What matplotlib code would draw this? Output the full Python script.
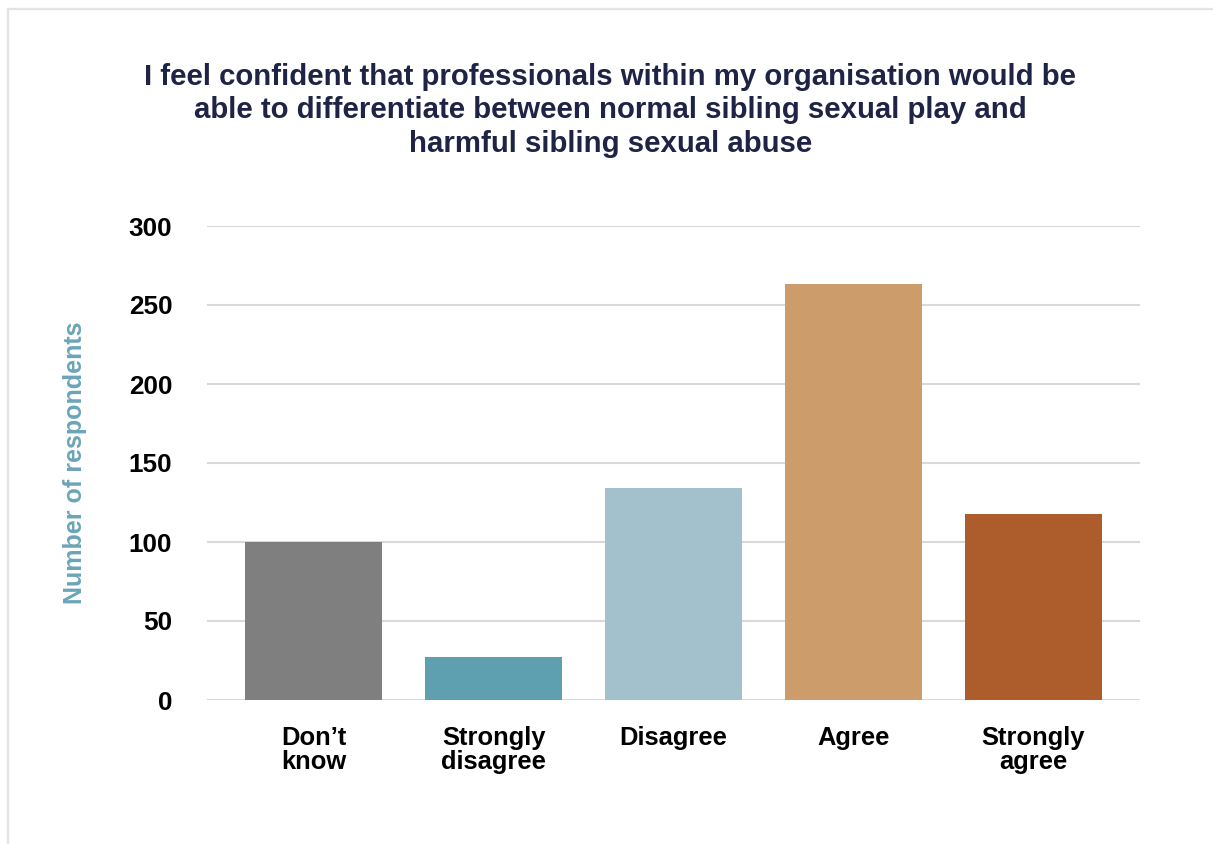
import matplotlib.pyplot as plt
from matplotlib.patches import Rectangle

plt.rcParams["font.family"] = ["Liberation Sans", "DejaVu Sans"]
plt.rcParams["font.weight"] = "bold"

categories = ["Don\u2019t\nknow", "Strongly\ndisagree", "Disagree", "Agree", "Strongly\nagree"]
respondents = [100, 27, 134, 263, 118]
bar_colors = ["#7f7f7f", "#5fa0b0", "#a3c1cd", "#cd9c6b", "#ad5d2b"]
y_ticks = [0, 50, 100, 150, 200, 250, 300]

title = ("I feel confident that professionals within my organisation would be\n"
         "able to differentiate between normal sibling sexual play and\n"
         "harmful sibling sexual abuse")

fig = plt.figure(figsize=(12.13, 8.44), dpi=100)
fig.patches.append(Rectangle((8 / 1213, -0.1), 1.2, 1.1 - 9 / 844,
                             transform=fig.transFigure, fill=False,
                             edgecolor="#e3e3e3", linewidth=1.6))

ax = fig.add_axes([207 / 1213, 1 - 700 / 844, (1140 - 207) / 1213, (700 - 226) / 844])
x = range(len(categories))
ax.bar(x, respondents, width=0.76, color=bar_colors, zorder=3)

ax.set_xlim(-0.592, 4.592)
ax.set_ylim(0, 300)
ax.set_yticks(y_ticks)
ax.set_xticks(list(x))
ax.set_xticklabels(categories, linespacing=1.0)
ax.yaxis.grid(True, color="#d9d9d9", linewidth=1.5, zorder=0)
ax.set_axisbelow(True)
for side in ax.spines.values():
    side.set_visible(False)
ax.tick_params(axis="both", length=0, labelcolor="black")
ax.tick_params(axis="y", labelsize=18.8, pad=25)
ax.tick_params(axis="x", labelsize=18.4, pad=19)

ax.set_ylabel("Number of respondents", fontsize=18, fontweight="bold",
              color="#6aa5b7", labelpad=30)

fig.text(0.503, 1 - 63 / 844, title, ha="center", va="top", fontsize=21.2,
         color="#1f2447", linespacing=1.25)

fig.savefig("out.png", dpi=100)
